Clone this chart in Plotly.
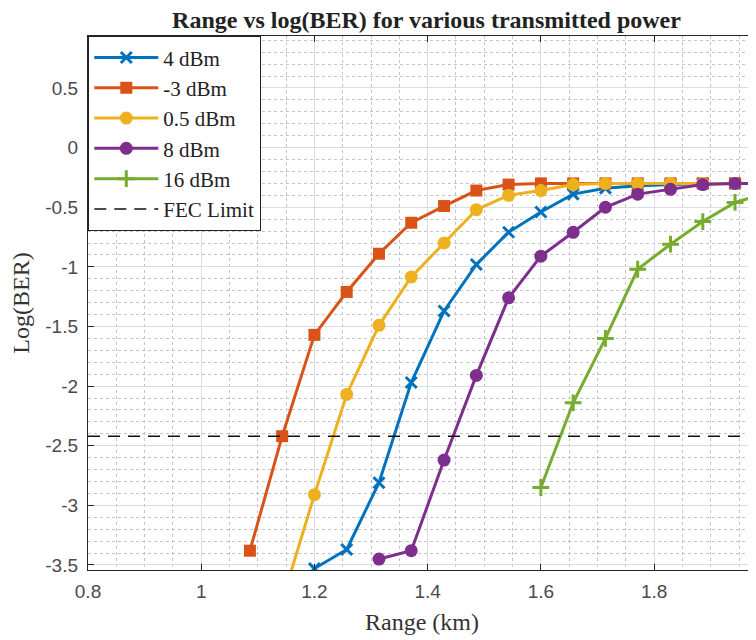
import plotly.graph_objects as go

# ---------------- data ----------------
RANGE_4DBM = [1.200, 1.257, 1.314, 1.371, 1.429, 1.486, 1.543, 1.600, 1.657, 1.714, 1.771, 1.829, 1.886, 1.943, 2.000]
LOGBER_4DBM = [-3.53, -3.37, -2.81, -1.97, -1.37, -0.98, -0.71, -0.54, -0.39, -0.34, -0.32, -0.31, -0.30, -0.30, -0.30]

RANGE_M3DBM = [1.086, 1.143, 1.200, 1.257, 1.314, 1.371, 1.429, 1.486, 1.543, 1.600, 1.657, 1.714, 1.771, 1.829, 1.886, 1.943, 2.000]
LOGBER_M3DBM = [-3.38, -2.42, -1.57, -1.21, -0.89, -0.63, -0.49, -0.36, -0.31, -0.30, -0.30, -0.30, -0.30, -0.30, -0.30, -0.30, -0.30]

RANGE_05DBM = [1.143, 1.200, 1.257, 1.314, 1.371, 1.429, 1.486, 1.543, 1.600, 1.657, 1.714, 1.771, 1.829, 1.886, 1.943, 2.000]
LOGBER_05DBM = [-3.80, -2.91, -2.07, -1.49, -1.085, -0.80, -0.52, -0.40, -0.36, -0.31, -0.30, -0.30, -0.30, -0.30, -0.30, -0.30]

RANGE_8DBM = [1.314, 1.371, 1.429, 1.486, 1.543, 1.600, 1.657, 1.714, 1.771, 1.829, 1.886, 1.943, 2.000]
LOGBER_8DBM = [-3.45, -3.38, -2.62, -1.91, -1.26, -0.91, -0.71, -0.50, -0.39, -0.35, -0.31, -0.30, -0.30]

RANGE_16DBM = [1.600, 1.657, 1.714, 1.771, 1.829, 1.886, 1.943, 2.000]
LOGBER_16DBM = [-2.85, -2.14, -1.60, -1.02, -0.81, -0.62, -0.46, -0.38]

FEC_RANGE = [0.8, 2.0]
FEC_LIMIT = [-2.42, -2.42]

SERIES_NAMES = ["4 dBm", "-3 dBm", "0.5 dBm", "8 dBm", "16 dBm"]
FEC_NAME = "FEC Limit"

X_TICKS = [0.8, 1.0, 1.2, 1.4, 1.6, 1.8, 2.0]
X_TICK_LABELS = ["0.8", "1", "1.2", "1.4", "1.6", "1.8", "2"]
Y_TICKS = [-3.5, -3.0, -2.5, -2.0, -1.5, -1.0, -0.5, 0.0, 0.5]
Y_TICK_LABELS = ["-3.5", "-3", "-2.5", "-2", "-1.5", "-1", "-0.5", "0", "0.5"]

TITLE = "<b>Range vs log(BER) for various transmitted power</b>"
X_TITLE = "Range (km)"
Y_TITLE = "Log(BER)"

# ---------------- styling ----------------
COLORS = ["#0072BD", "#D95319", "#EDB120", "#7E2F8E", "#77AC30"]
SERIF = "Liberation Serif, Times New Roman, serif"
SANS = "Liberation Sans, Arial, sans-serif"

fig = go.Figure()

series = [
    (RANGE_4DBM, LOGBER_4DBM, dict(symbol="x-thin-open", size=11, line=dict(width=3, color=COLORS[0]))),
    (RANGE_M3DBM, LOGBER_M3DBM, dict(symbol="square", size=12, color=COLORS[1])),
    (RANGE_05DBM, LOGBER_05DBM, dict(symbol="circle", size=13, color=COLORS[2])),
    (RANGE_8DBM, LOGBER_8DBM, dict(symbol="circle", size=13, color=COLORS[3])),
    (RANGE_16DBM, LOGBER_16DBM, dict(symbol="cross-thin-open", size=12, line=dict(width=3, color=COLORS[4]))),
]
for (xs, ys, mk), name, col in zip(series, SERIES_NAMES, COLORS):
    mk = dict(mk)
    mk.setdefault("color", col)
    fig.add_trace(go.Scatter(
        x=xs, y=ys, name=name, mode="lines+markers",
        line=dict(color=col, width=3), marker=mk,
    ))

fig.add_trace(go.Scatter(
    x=FEC_RANGE, y=FEC_LIMIT, name=FEC_NAME, mode="lines",
    line=dict(color="#111111", width=1.6, dash="12px,8px"),
))

axis_common = dict(
    showline=True, linecolor="#262626", linewidth=1.3,
    ticks="inside", ticklen=6, tickcolor="#262626",
    mirror="ticks",
    showgrid=True, gridcolor="#d9dbe6", gridwidth=1,
    zeroline=False,
    tickfont=dict(family=SANS, size=19, color="#4a4a4a"),
)

fig.update_xaxes(
    **axis_common,
    range=[0.8, 1.98],
    tickvals=X_TICKS, ticktext=X_TICK_LABELS,
    ticklabelstandoff=4,
    minor=dict(dtick=0.05, tick0=0.8, showgrid=True, gridcolor="#c4c4c4",
               griddash="dot", gridwidth=1, ticks=""),
    title=dict(text=X_TITLE, font=dict(family=SERIF, size=24, color="#333333"), standoff=12),
)
fig.update_yaxes(
    **axis_common,
    range=[-3.542, 0.936],
    tickvals=Y_TICKS, ticktext=Y_TICK_LABELS,
    ticklabelstandoff=5,
    minor=dict(dtick=0.1, tick0=0.0, showgrid=True, gridcolor="#c4c4c4",
               griddash="dot", gridwidth=1, ticks=""),
    title=dict(text=Y_TITLE, font=dict(family=SERIF, size=24, color="#333333"), standoff=10),
)

# page body has an 8px margin, so the figure is sized/offset to compensate
fig.update_layout(
    width=748, height=632,
    margin=dict(l=80, r=0, t=28, b=70),
    paper_bgcolor="white", plot_bgcolor="white",
    title=dict(text=TITLE, font=dict(family=SERIF, size=24, color="#222222"),
               xref="container", x=0.5595, xanchor="center",
               yref="container", y=0.982, yanchor="middle"),
    legend=dict(
        x=0, y=1, xanchor="left", yanchor="top",
        bgcolor="white", bordercolor="#222222", borderwidth=1.3,
        font=dict(family=SERIF, size=21, color="#222222"),
        itemwidth=64, tracegroupgap=0,
    ),
    showlegend=True,
)

fig.write_html("out.html")
